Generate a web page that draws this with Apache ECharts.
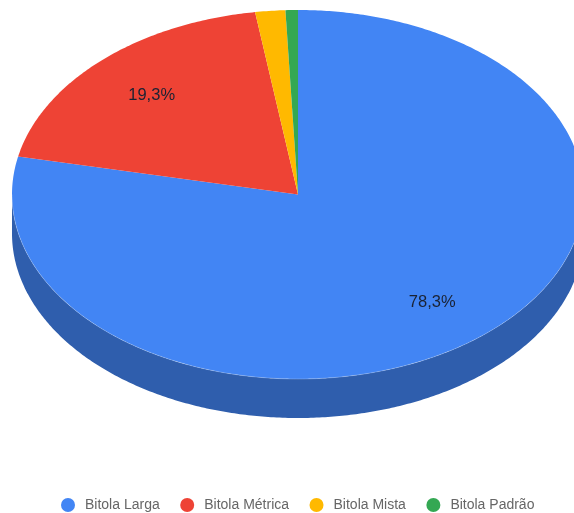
<!DOCTYPE html>
<html>
<head>
<meta charset="utf-8">
<style>html,body{margin:0;padding:0;background:#fff}#chart{width:574px;height:513px}</style>
<script src="https://cdn.jsdelivr.net/npm/echarts@6/dist/echarts.min.js"></script>
</head>
<body>
<div id="chart"></div>
<script>
// Participação de cada bitola na malha ferroviária (%)
const categories = ['Bitola Larga', 'Bitola Métrica', 'Bitola Mista', 'Bitola Padrão'];
const shares = [78.3, 19.3, 1.7, 0.7];
const topColors = ['#4285F4', '#EE4335', '#FFB900', '#34A853'];
const sideColors = ['#2F5EAD', '#A82F26', '#B58300', '#25773B'];

// Geometry of the tilted disc
const disc = { cx: 298, cy: 194.5, rx: 286, ry: 184.5, depth: 39 };
const labelRadius = 0.745;
const labelDy = 1;
const labelMinShare = 5;

const total = shares.reduce((a, b) => a + b, 0);
const startFractions = shares.map((_, i) =>
  shares.slice(0, i).reduce((a, b) => a + b, 0) / total);

// Angles run clockwise from twelve o'clock
function rimPoint(angle, dy) {
  return [disc.cx + disc.rx * Math.sin(angle), disc.cy - disc.ry * Math.cos(angle) + (dy || 0)];
}
function arcPoints(a0, a1, dy) {
  const steps = Math.max(2, Math.ceil(Math.abs(a1 - a0) / 0.01));
  const pts = [];
  for (let k = 0; k <= steps; k++) pts.push(rimPoint(a0 + (a1 - a0) * k / steps, dy));
  return pts;
}

function renderSlice(params, api) {
  const i = params.seriesIndex;
  const a0 = startFractions[i] * 2 * Math.PI;
  const a1 = a0 + shares[i] / total * 2 * Math.PI;
  const children = [];

  // Outer wall: only the part of the rim facing the viewer
  const wall0 = Math.max(a0, Math.PI / 2);
  const wall1 = Math.min(a1, Math.PI * 3 / 2);
  const hasWall = wall1 > wall0;
  if (hasWall) {
    children.push({
      type: 'polygon',
      shape: { points: arcPoints(wall0, wall1, 0).concat(arcPoints(wall1, wall0, disc.depth)) },
      style: { fill: sideColors[i] }
    });
  }

  // Top face
  children.push({
    type: 'polygon',
    shape: { points: [[disc.cx, disc.cy]].concat(arcPoints(a0, a1, 0)) },
    style: { fill: topColors[i] }
  });

  // Faint seam where the top face meets the wall
  if (hasWall) {
    children.push({
      type: 'polyline',
      shape: { points: arcPoints(wall0, wall1, 0) },
      style: { fill: null, stroke: 'rgba(255,255,255,0.22)', lineWidth: 1 }
    });
  }

  // Percentage label
  if (shares[i] >= labelMinShare) {
    const mid = (a0 + a1) / 2;
    children.push({
      type: 'text',
      z2: 10,
      style: {
        x: disc.cx + disc.rx * labelRadius * Math.sin(mid),
        y: disc.cy - disc.ry * labelRadius * Math.cos(mid) + labelDy,
        text: shares[i].toFixed(1).replace('.', ',') + '%',
        fill: '#1a2233',
        font: '16.5px "Liberation Sans", Arial, sans-serif',
        align: 'center',
        verticalAlign: 'middle'
      }
    });
  }
  return { type: 'group', children };
}

const chart = echarts.init(document.getElementById('chart'), null, { renderer: 'canvas' });
chart.setOption({
  animation: false,
  legend: {
    left: 61,
    top: 498,
    padding: 0,
    icon: 'circle',
    itemWidth: 14,
    itemHeight: 14,
    itemGap: 20.5,
    selectedMode: false,
    textStyle: { color: '#666', fontSize: 14, fontFamily: '"Liberation Sans", Arial, sans-serif', padding: [0, 0, 0, 5] },
    data: categories
  },
  series: categories.map((name, i) => ({
    type: 'custom',
    name,
    coordinateSystem: 'none',
    itemStyle: { color: topColors[i] },
    renderItem: renderSlice,
    data: [[shares[i]]]
  }))
});
</script>
</body>
</html>
